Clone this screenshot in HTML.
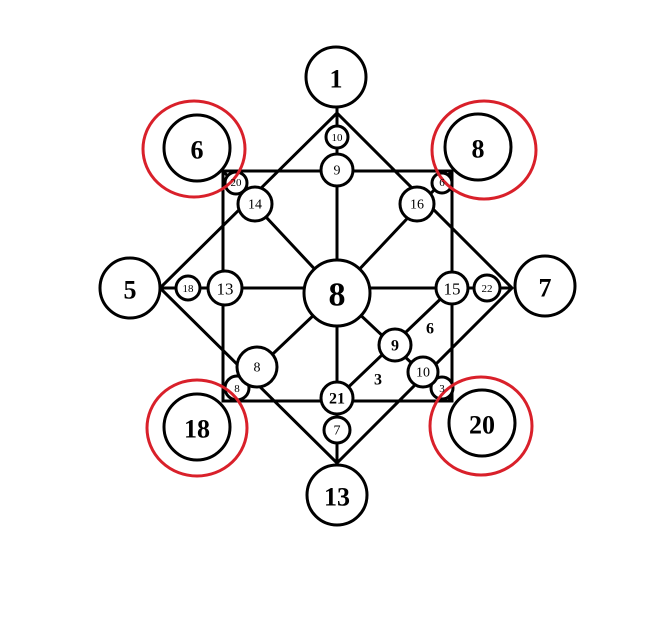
<!DOCTYPE html>
<html><head><meta charset="utf-8"><style>
html,body{margin:0;padding:0;background:#fff;width:666px;height:619px;overflow:hidden}
svg{display:block}
text{font-family:"Liberation Serif",serif;text-anchor:middle;dominant-baseline:central;fill:#000}
.b{font-weight:bold}
</style></head><body>
<svg width="666" height="619" viewBox="0 0 666 619" xmlns="http://www.w3.org/2000/svg">
<g stroke="#000" stroke-width="3" fill="none" stroke-linejoin="miter">
<rect x="223" y="171" width="229" height="230"/>
<polygon points="337,113 512,288 337,463 160,288"/>
<line x1="337" y1="108" x2="337" y2="473"/>
<line x1="160" y1="288" x2="512" y2="288"/>
<line x1="223" y1="171" x2="337" y2="293"/>
<line x1="452" y1="171" x2="337" y2="293"/>
<line x1="337" y1="293" x2="452" y2="401"/>
<line x1="337" y1="293" x2="237" y2="388"/>
<line x1="337" y1="398" x2="452" y2="288"/>
</g>
<g stroke="#000" stroke-width="3" fill="#fff">
<circle cx="336" cy="77" r="30"/>
<circle cx="130" cy="288" r="30"/>
<circle cx="545" cy="286" r="30"/>
<circle cx="337" cy="495" r="30"/>
<circle cx="197" cy="148" r="33"/>
<circle cx="478" cy="147" r="33"/>
<circle cx="197" cy="427" r="33"/>
<circle cx="482" cy="423" r="33"/>
<circle cx="236" cy="183" r="11"/>
<circle cx="442" cy="183" r="10"/>
<circle cx="237" cy="388" r="12"/>
<circle cx="442" cy="388" r="11"/>
<circle cx="337" cy="293" r="33"/>
<circle cx="337" cy="137" r="11"/>
<circle cx="337" cy="170" r="16"/>
<circle cx="255" cy="204" r="17"/>
<circle cx="417" cy="204" r="17"/>
<circle cx="188" cy="288" r="12"/>
<circle cx="225" cy="288" r="17"/>
<circle cx="452" cy="288" r="16"/>
<circle cx="487" cy="288" r="13"/>
<circle cx="257" cy="367" r="20"/>
<circle cx="337" cy="398" r="16"/>
<circle cx="337" cy="430" r="13"/>
<circle cx="395" cy="345" r="16"/>
<circle cx="423" cy="372" r="15"/>
</g>
<g stroke="#d9202a" stroke-width="3" fill="none">
<ellipse cx="194" cy="149" rx="51" ry="48"/>
<ellipse cx="484" cy="150" rx="52" ry="49"/>
<ellipse cx="197" cy="428" rx="50" ry="48"/>
<ellipse cx="481" cy="426" rx="51" ry="49"/>
</g>
<g class="b" font-size="26">
<text x="336" y="79">1</text>
<text x="130" y="290">5</text>
<text x="545" y="288">7</text>
<text x="337" y="497">13</text>
<text x="197" y="150">6</text>
<text x="478" y="149">8</text>
<text x="197" y="429">18</text>
<text x="482" y="425">20</text>
</g>
<text class="b" x="337" y="295" font-size="34">8</text>
<g font-size="11">
<text x="236" y="183">20</text>
<text x="442" y="183">6</text>
<text x="237" y="389">8</text>
<text x="442" y="389">3</text>
<text x="337" y="138">10</text>
<text x="188" y="289">18</text>
<text x="487" y="289">22</text>
</g>
<g font-size="14">
<text x="337" y="171">9</text>
<text x="255" y="205">14</text>
<text x="417" y="205">16</text>
<text x="257" y="368">8</text>
<text x="423" y="373">10</text>
<text x="337" y="431">7</text>
</g>
<g font-size="17">
<text x="225" y="289">13</text>
<text x="452" y="289">15</text>
</g>
<g class="b" font-size="16">
<text x="337" y="399">21</text>
<text x="395" y="346">9</text>
<text x="430" y="329">6</text>
<text x="378" y="380">3</text>
</g>
</svg>
</body></html>
